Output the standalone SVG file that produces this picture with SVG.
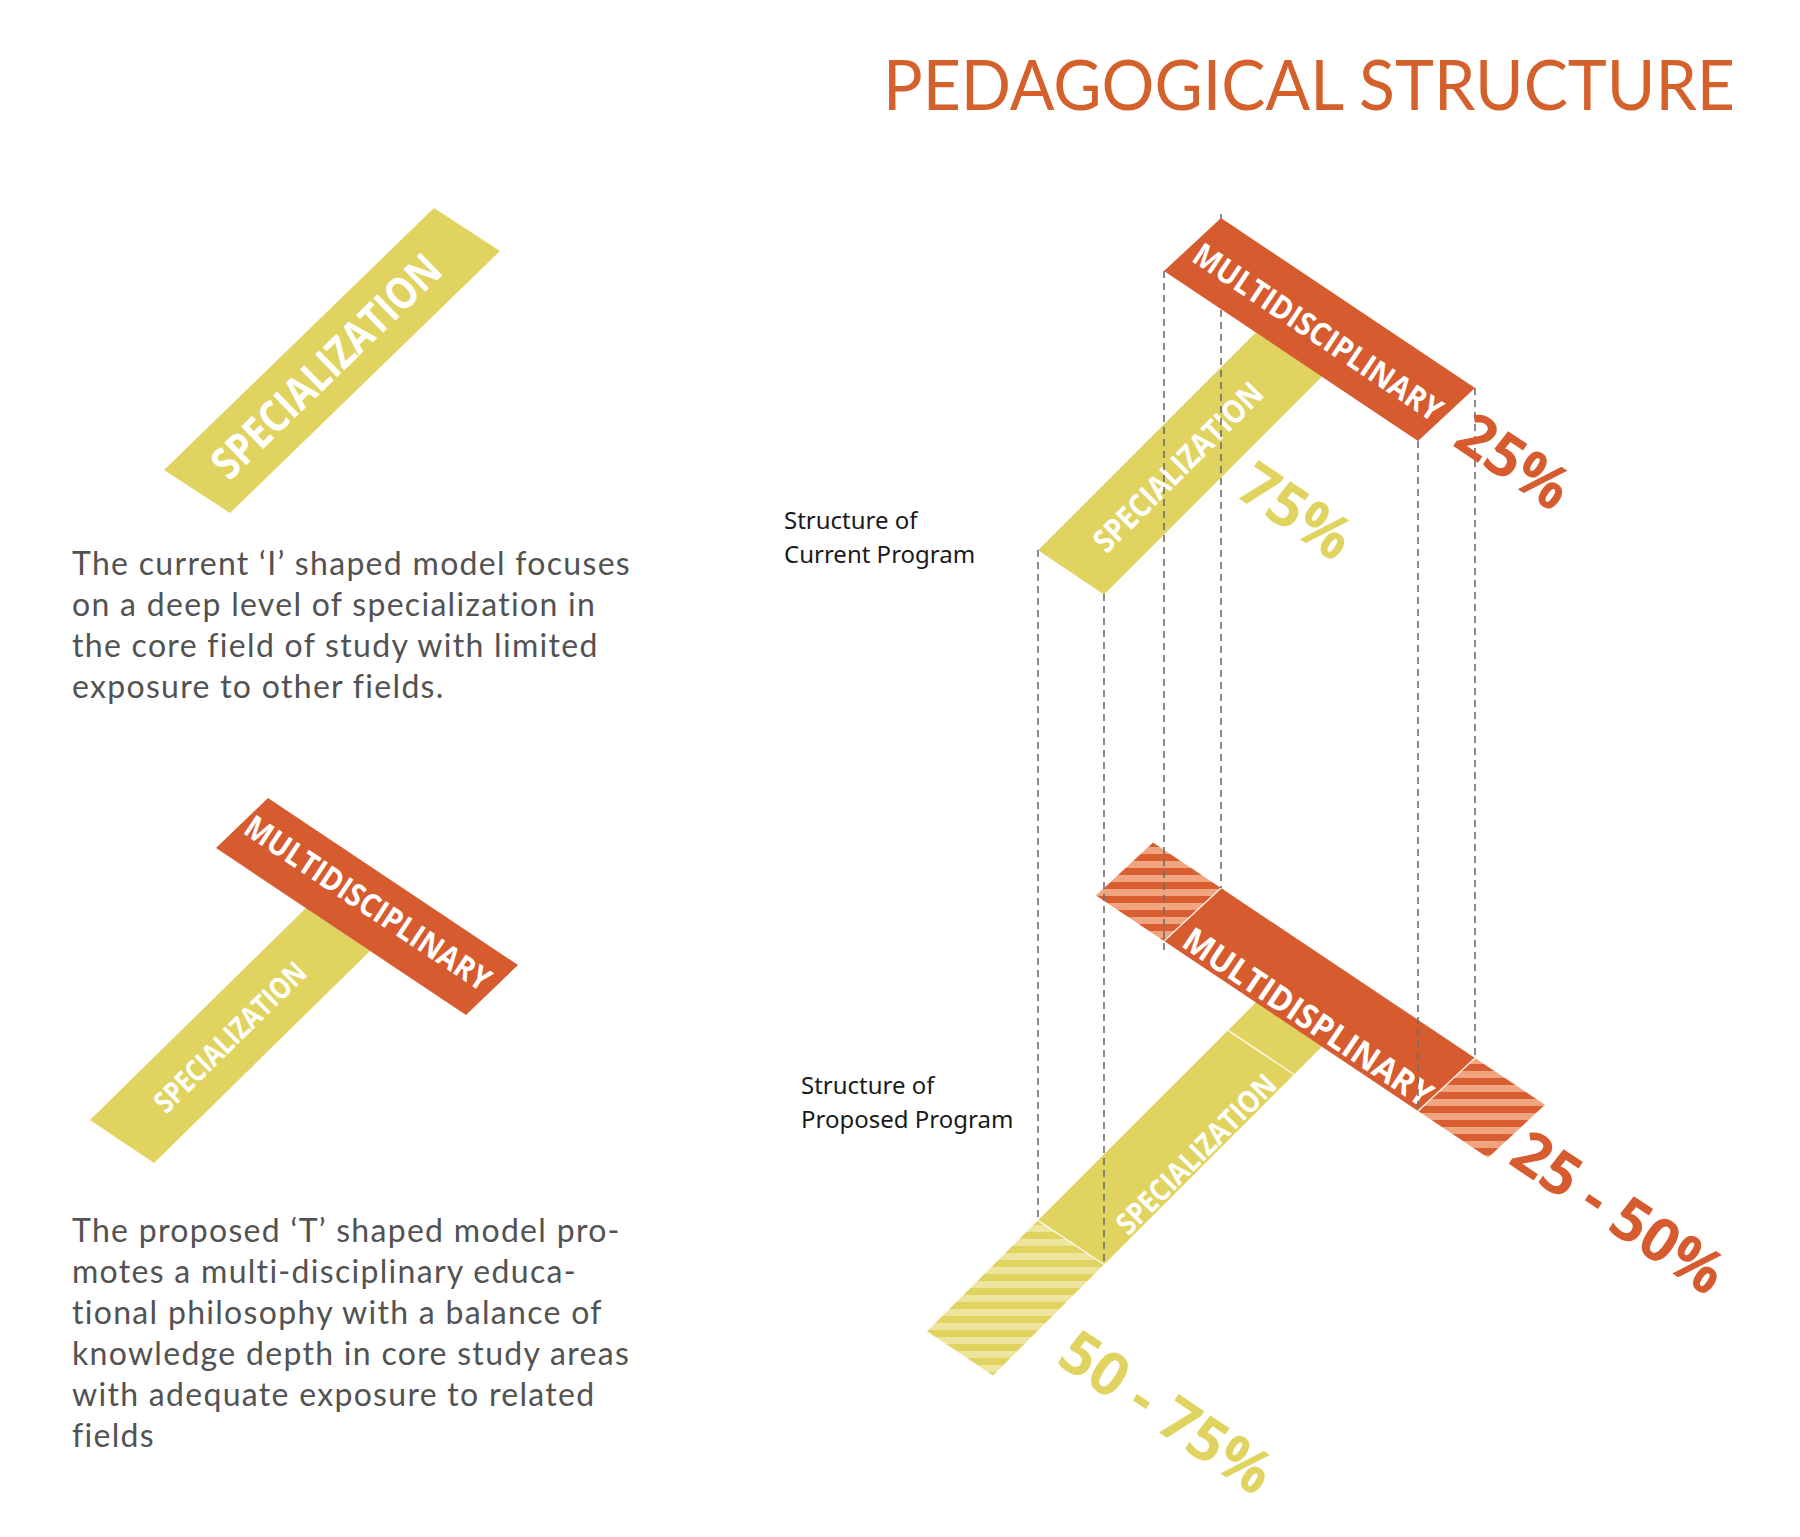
<svg xmlns="http://www.w3.org/2000/svg" width="1800" height="1537" viewBox="0 0 1800 1537">
<defs>
<style>
.title{font-family:Lato,"Liberation Sans",sans-serif;font-size:70px;fill:#D4612B;}
.para{font-family:Lato,"Liberation Sans",sans-serif;font-size:32px;letter-spacing:1.3px;fill:#525252;}
.lbl{font-family:"Noto Sans","Liberation Sans",sans-serif;font-size:24px;fill:#1a1a1a;}
.bar{font-family:"Open Sans","Liberation Sans",sans-serif;font-weight:700;fill:#ffffff;}
.pct{font-family:"Open Sans","Liberation Sans",sans-serif;font-weight:700;font-size:60px;}
.yel{fill:#E0D35F;}
.org{fill:#D65B2F;}
.dash{stroke:#6e6e6e;stroke-width:1.6;stroke-dasharray:7 5;fill:none;}
.sep{stroke:#ffffff;stroke-width:1.5;stroke-opacity:0.85;fill:none;}
</style>
<pattern id="hatchO" patternUnits="userSpaceOnUse" width="20" height="14">
<rect width="20" height="14" fill="#F0A47F"/>
<rect width="20" height="7" fill="#D95E31"/>
</pattern>
<pattern id="hatchY" patternUnits="userSpaceOnUse" width="20" height="14">
<rect width="20" height="14" fill="#EDE49E"/>
<rect width="20" height="7" fill="#E0D35F"/>
</pattern>
</defs>
<rect width="1800" height="1537" fill="#ffffff"/>

<g id="title">
<text class="title" x="883" y="110" textLength="852" lengthAdjust="spacingAndGlyphs">PEDAGOGICAL STRUCTURE</text>
</g>

<g id="i-model">
<polygon class="yel" points="434,208 500,251 230,513 164,470"/>
<text class="bar" font-size="44" transform="translate(326,366) rotate(-44.1)" x="0" y="15.7" text-anchor="middle" textLength="300" lengthAdjust="spacingAndGlyphs">SPECIALIZATION</text>
</g>

<g id="i-text">
<text class="para" x="72" y="575">The current ‘I’ shaped model focuses</text>
<text class="para" x="72" y="616">on a deep level of specialization in</text>
<text class="para" x="72" y="657">the core field of study with limited</text>
<text class="para" x="72" y="698">exposure to other fields.</text>
</g>

<g id="t-model">
<polygon class="yel" points="306,908 370,951 154,1163 90,1120"/>
<text class="bar" font-size="30" transform="translate(230,1037) rotate(-44.5)" x="0" y="10.7" text-anchor="middle" textLength="200" lengthAdjust="spacingAndGlyphs">SPECIALIZATION</text>
<polygon class="org" points="216,848 268,798 518,965 466,1015"/>
<text class="bar" font-size="32" transform="translate(368,903) rotate(33.7)" x="0" y="11.4" text-anchor="middle" textLength="288" lengthAdjust="spacingAndGlyphs">MULTIDISCIPLINARY</text>
</g>

<g id="t-text">
<text class="para" x="72" y="1242">The proposed ‘T’ shaped model pro-</text>
<text class="para" x="72" y="1283">motes a multi-disciplinary educa-</text>
<text class="para" x="72" y="1324">tional philosophy with a balance of</text>
<text class="para" x="72" y="1365">knowledge depth in core study areas</text>
<text class="para" x="72" y="1406">with adequate exposure to related</text>
<text class="para" x="72" y="1447">fields</text>
</g>

<g id="label-current">
<text class="lbl" x="784" y="529">Structure of</text>
<text class="lbl" x="784" y="563">Current Program</text>
</g>
<g id="label-proposed">
<text class="lbl" x="801" y="1094">Structure of</text>
<text class="lbl" x="801" y="1128">Proposed Program</text>
</g>

<g id="proposed-specialization">
<polygon fill="url(#hatchY)" points="1038,1220.3 1104,1264.5 993,1375.5 927,1331.3"/>
<polygon class="yel" points="1256,1002.3 1322,1046.5 1104,1264.5 1038,1220.3"/>
<line class="sep" x1="1228" y1="1030.3" x2="1294" y2="1074.5"/>
<line class="sep" x1="1038" y1="1220.3" x2="1104" y2="1264.5"/>
<text class="bar" font-size="30" transform="translate(1196,1154) rotate(-45)" x="0" y="10.7" text-anchor="middle" textLength="212" lengthAdjust="spacingAndGlyphs">SPECIALIZATION</text>
</g>

<g id="proposed-multidisciplinary">
<polygon fill="url(#hatchO)" points="1096,895.5 1153,842.5 1221,888 1164,941"/>
<polygon fill="url(#hatchO)" points="1475,1058 1545,1104.8 1488,1157.8 1418,1111"/>
<polygon class="org" points="1164,941 1221,888 1475,1058 1418,1111"/>
<line class="sep" x1="1164" y1="941" x2="1221" y2="888"/>
<line class="sep" x1="1418" y1="1111" x2="1475" y2="1058"/>
<text class="bar" font-size="34" transform="translate(1308,1017) rotate(33.8)" x="0" y="12.1" text-anchor="middle" textLength="292" lengthAdjust="spacingAndGlyphs">MULTIDISPLINARY</text>
</g>

<g id="current-specialization">
<polygon class="yel" points="1256,332.3 1322,376.5 1104,594.5 1038,550.3"/>
<text class="bar" font-size="32" transform="translate(1178,467) rotate(-45)" x="0" y="11.4" text-anchor="middle" textLength="225" lengthAdjust="spacingAndGlyphs">SPECIALIZATION</text>
</g>

<g id="connectors">
<line class="dash" x1="1038" y1="550" x2="1038" y2="1220"/>
<line class="dash" x1="1104" y1="594" x2="1104" y2="1264"/>
<line class="dash" x1="1164" y1="271" x2="1164" y2="953"/>
<line class="dash" x1="1221" y1="214" x2="1221" y2="888"/>
<line class="dash" x1="1418" y1="441" x2="1418" y2="1109"/>
<line class="dash" x1="1475" y1="388" x2="1475" y2="1058"/>
</g>

<g id="current-multidisciplinary">
<polygon class="org" points="1164,271 1221,218 1475,388 1418,441"/>
<text class="bar" font-size="32" transform="translate(1318,332) rotate(33.8)" x="0" y="11.4" text-anchor="middle" textLength="292" lengthAdjust="spacingAndGlyphs">MULTIDISCIPLINARY</text>
</g>

<g id="percentages">
<text class="pct" fill="#D65B2F" transform="translate(1514,461) rotate(33.8)" x="0" y="21.4" text-anchor="middle">25%</text>
<text class="pct" fill="#E0D35F" transform="translate(1296,511) rotate(33.8)" x="0" y="21.4" text-anchor="middle">75%</text>
<text class="pct" fill="#D65B2F" transform="translate(1619,1212) rotate(33.8)" x="0" y="21.4" text-anchor="middle">25 - 50%</text>
<text class="pct" fill="#E0D35F" transform="translate(1167,1412) rotate(33.8)" x="0" y="21.4" text-anchor="middle">50 - 75%</text>
</g>
</svg>
